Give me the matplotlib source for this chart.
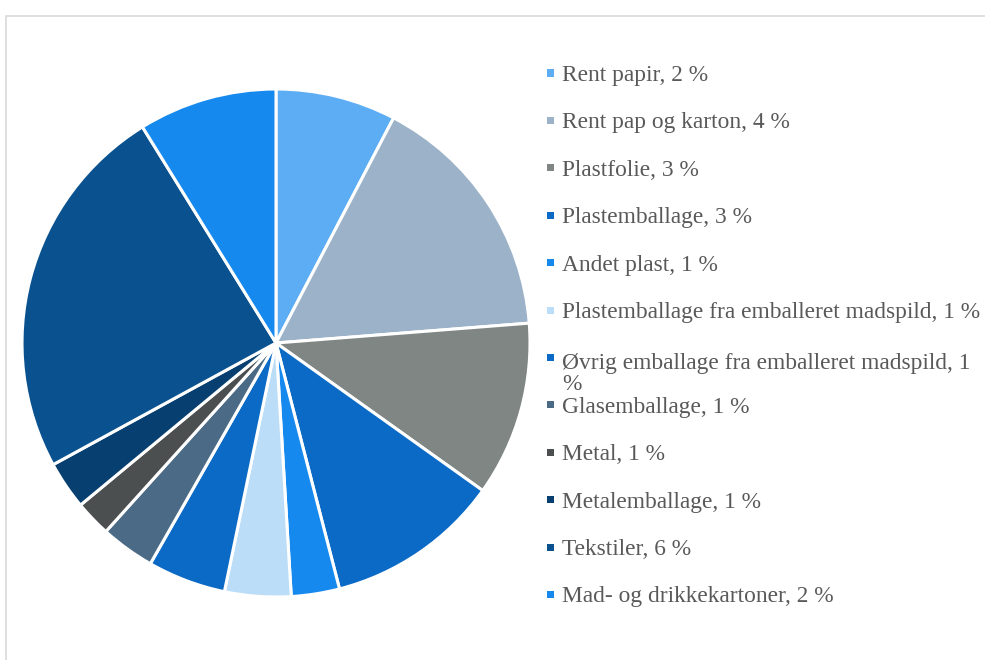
import matplotlib.pyplot as plt
from matplotlib.patches import Rectangle

# categories, shown percent and estimated slice size
names = ["Rent papir", "Rent pap og karton", "Plastfolie", "Plastemballage",
         "Andet plast", "Plastemballage fra emballeret madspild",
         "Øvrig emballage fra emballeret madspild", "Glasemballage", "Metal",
         "Metalemballage", "Tekstiler", "Mad- og drikkekartoner"]
shown_pct = [2, 4, 3, 3, 1, 1, 1, 1, 1, 1, 6, 2]
values = [2.0, 4.2, 2.9, 2.9, 0.8, 1.1, 1.3, 0.9, 0.6, 0.8, 6.3, 2.3]
colors = ["#5DADF5", "#9BB2C8", "#7F8684", "#0B6AC6", "#1689EE", "#BCDDF8",
          "#0B6AC6", "#4B6A86", "#4C4F50", "#063F70", "#09528F", "#1689EE"]

W, H = 985, 660
fig = plt.figure(figsize=(W / 100, H / 100), dpi=100)

# light chart-area frame, cut off at right and bottom
fig.patches.append(Rectangle((6 / W, -0.1), 1.1, (H - 16) / H + 0.1,
                             transform=fig.transFigure, fill=False,
                             edgecolor="#D9D9D9", linewidth=1.2))

# pie centred at (275, 343) px, radius 254 px
cx, cy, r = 276, 343, 254
ax = fig.add_axes([(cx - r) / W, (H - cy - r) / H, 2 * r / W, 2 * r / H])
ax.pie(values, colors=colors, startangle=90, counterclock=False, radius=1,
       wedgeprops=dict(edgecolor="white", linewidth=2.2))
ax.set_xlim(-1, 1)
ax.set_ylim(-1, 1)
ax.axis("off")

# legend drawn as a list of entries
labels = []
for n, p in zip(names, shown_pct):
    lab = f"{n}, {p} %"
    if n.startswith("Øvrig"):
        lab = f"{n}, {p}\n%"
    labels.append(lab)

y0, dy, line_h = 73, 47.4, 25
for i, (lab, c) in enumerate(zip(labels, colors)):
    y = y0 + i * dy
    fig.patches.append(Rectangle((547 / W, (H - y - 3.5) / H), 7 / W, 7 / H,
                                 transform=fig.transFigure, facecolor=c,
                                 edgecolor="none"))
    # baseline of a multi-line text sits on its last line
    extra = line_h * lab.count("\n")
    fig.text(562 / W, (H - y - 8 - extra) / H, lab, family="Liberation Serif",
             fontsize=16.8, color="#595959", va="baseline", ha="left",
             linespacing=1.05)

fig.savefig("out.png", dpi=100)
